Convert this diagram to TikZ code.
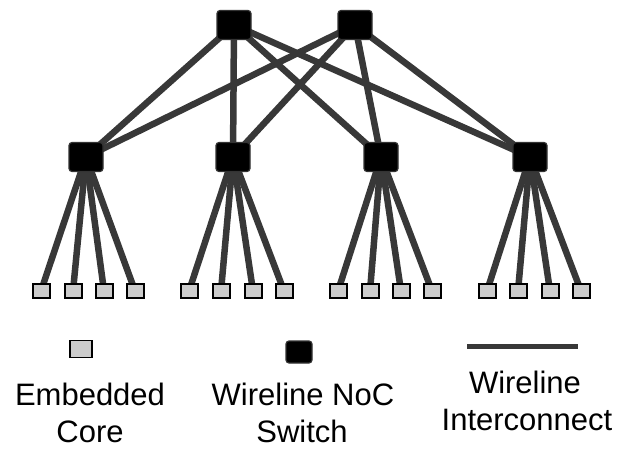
\documentclass[tikz,border=0pt]{standalone}
\usepackage{fontspec}
\setmainfont{Liberation Sans}
\usetikzlibrary{backgrounds}
\begin{document}
\begin{tikzpicture}[x=1pt,y=1pt,
  switchbox/.style={draw=black!80,line width=1.2pt,fill=black,rounded corners=3pt,
    minimum width=34pt,minimum height=29pt,inner sep=0pt},
  corebox/.style={draw=black,line width=2pt,fill=black!20,
    minimum width=17pt,minimum height=14pt,inner sep=0pt},
  wire/.style={line width=6.5pt,draw=black!78},
  legtext/.style={font=\fontsize{31}{37}\selectfont,inner sep=0pt,anchor=base}]
\useasboundingbox (0,0) rectangle (620,448);

% top-level switches
\node[switchbox] (t1) at (234,423) {};
\node[switchbox] (t2) at (355,423) {};
% second-level switches
\node[switchbox] (m1) at (86,291) {};
\node[switchbox] (m2) at (233,291) {};
\node[switchbox] (m3) at (381,291) {};
\node[switchbox] (m4) at (530,291) {};

% embedded cores, four per switch
\foreach \g/\xa/\xb/\xc/\xd in {1/41/73/104/135, 2/189/221/253/284, 3/338/370/401/432, 4/487/518/550/581}{
  \node[corebox] (c\g-1) at (\xa,157) {};
  \node[corebox] (c\g-2) at (\xb,157) {};
  \node[corebox] (c\g-3) at (\xc,157) {};
  \node[corebox] (c\g-4) at (\xd,157) {};
}

% wireline links, kept behind the boxes
\begin{scope}[on background layer]
\foreach \t in {t1,t2}{
  \foreach \m in {m1,m2,m3,m4}{
    \draw[wire] (\t.center) -- (\m.center);
  }
}
\foreach \g in {1,2,3,4}{
  \foreach \k in {1,2,3,4}{
    \draw[wire] (m\g.center) -- (c\g-\k.center);
  }
}
\end{scope}

% legend
\node[corebox,minimum width=22pt,minimum height=17pt,line width=1.5pt] (lc) at (81,99) {};
\node[switchbox,minimum width=26pt,minimum height=22pt] (ls) at (299,96) {};
\coordinate (la) at (467,102);
\coordinate (lb) at (578,102);
\draw[wire,line width=5pt] (la) -- (lb);

\node[legtext] (t-core1) at (90,43) {Embedded};
\node[legtext] (t-core2) at (90,6) {Core};
\node[legtext] (t-sw1) at (303,43) {Wireline NoC};
\node[legtext] (t-sw2) at (302,6) {Switch};
\node[legtext] (t-wire1) at (525,55) {Wireline};
\node[legtext] (t-wire2) at (527,18) {Interconnect};
\end{tikzpicture}
\end{document}
